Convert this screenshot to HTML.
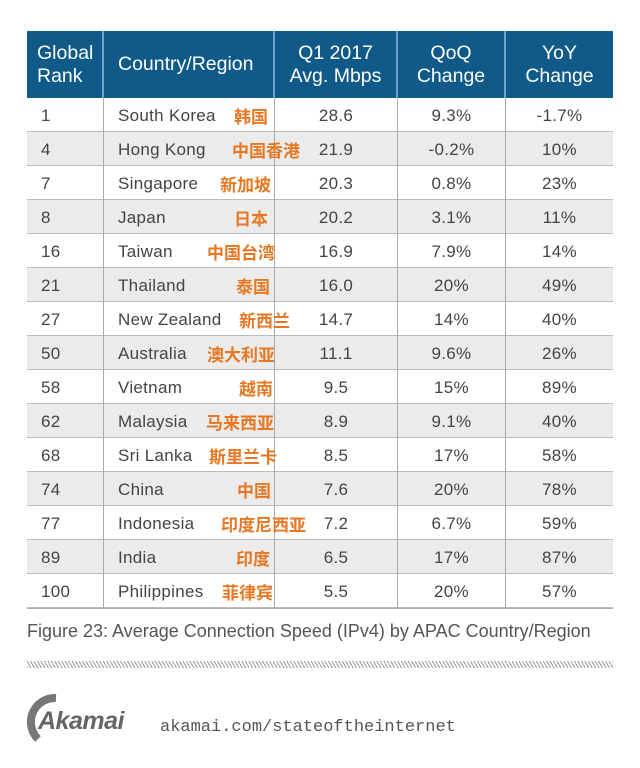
<!DOCTYPE html>
<html><head><meta charset="utf-8"><style>
body{margin:0;width:640px;height:768px;background:#fff;position:relative;overflow:hidden;font-family:"Liberation Sans","Noto Sans CJK SC",sans-serif;}
.hd{position:absolute;top:31px;height:67px;background:#105a8a;color:#fff;font-size:19.5px;line-height:23px;display:flex;align-items:center;box-sizing:border-box;border-right:2px solid #6fa3c8;}
.row{position:absolute;left:27px;width:586px;height:34px;border-bottom:1px solid #bbb;box-sizing:border-box;}
.c{position:absolute;top:0;height:34px;line-height:36px;font-size:17px;letter-spacing:0.3px;color:#444;border-right:1px solid #aaa;box-sizing:border-box;}
.cn{position:absolute;top:0;line-height:36px;font-size:17px;font-weight:bold;color:#e87722;font-family:"Noto Sans CJK SC",sans-serif;white-space:nowrap;}
</style></head><body>
<div class="hd" style="left:27px;width:77px;padding-left:10px;">Global<br>Rank</div>
<div class="hd" style="left:104px;width:171px;padding-left:14px;">Country/Region</div>
<div class="hd" style="left:275px;width:123px;justify-content:center;text-align:center;">Q1 2017<br>Avg. Mbps</div>
<div class="hd" style="left:398px;width:108px;justify-content:center;text-align:center;">QoQ<br>Change</div>
<div class="hd" style="left:506px;width:107px;justify-content:center;text-align:center;border-right:none;">YoY<br>Change</div>
<div id="tbl" style="position:absolute;left:27px;top:98px;width:586px;height:511px;border:1px solid #aaa;border-top:none;box-sizing:border-box;"></div>
<div style="position:absolute;left:27px;top:621px;font-size:18px;color:#555;">Figure 23: Average Connection Speed (IPv4) by APAC Country/Region</div>
<div style="position:absolute;left:27px;top:661px;width:586px;height:7px;background:repeating-linear-gradient(60deg,#999 0 1px,#fff 1px 3px);"></div>
<div style="position:absolute;left:22px;top:693px;width:120px;height:50px;">
<svg width="44" height="50" style="position:absolute;left:0;top:0"><path d="M34 5 A24 24 0 0 0 16 46" stroke="#777" stroke-width="8" fill="none"/></svg>
<span style="position:absolute;left:16px;top:14px;font-size:25px;font-weight:bold;font-style:italic;color:#666;letter-spacing:-0.5px;">Akamai</span></div>
<div style="position:absolute;left:160px;top:718px;font-family:'Liberation Mono',monospace;font-size:17px;color:#555;">akamai.com/stateoftheinternet</div>
<script>
const ranks=[1,4,7,8,16,21,27,50,58,62,68,74,77,89,100];
const countries=["South Korea","Hong Kong","Singapore","Japan","Taiwan","Thailand","New Zealand","Australia","Vietnam","Malaysia","Sri Lanka","China","Indonesia","India","Philippines"];
const chinese=["韩国","中国香港","新加坡","日本","中国台湾","泰国","新西兰","澳大利亚","越南","马来西亚","斯里兰卡","中国","印度尼西亚","印度","菲律宾"];
const speeds=["28.6","21.9","20.3","20.2","16.9","16.0","14.7","11.1","9.5","8.9","8.5","7.6","7.2","6.5","5.5"];
const qoq=["9.3%","-0.2%","0.8%","3.1%","7.9%","20%","14%","9.6%","15%","9.1%","17%","20%","6.7%","17%","20%"];
const yoy=["-1.7%","10%","23%","11%","14%","49%","40%","26%","89%","40%","58%","78%","59%","87%","57%"];
const cnRight=[268,300,271,268,275,270,290,275,273,274,277,271,306,270,273];
const body=document.body;
for(let i=0;i<ranks.length;i++){
 const r=document.createElement('div');
 
 
 r.className='row';r.style.top=(98+i*34)+'px';r.style.background=i%2?'#ebebeb':'#fff';
 const cells=[[0,77,String(ranks[i]),'left',14],[77,171,countries[i],'left',14],[248,123,speeds[i],'center',0],[371,108,qoq[i],'center',0],[479,107,yoy[i],'center',0]];
 cells.forEach((c,j)=>{const d=document.createElement('div');
  
  
  d.className='c';d.style.left=c[0]+'px';d.style.width=c[1]+'px';d.style.textAlign=c[3];d.style.paddingLeft=c[4]+'px';
  if(j==4)d.style.borderRight='none';d.textContent=c[2];r.appendChild(d);});
 const cn=document.createElement('div');
 
 
 cn.className='cn';cn.textContent=chinese[i];cn.style.right=(586-(cnRight[i]-27))+'px';
 r.appendChild(cn);
 body.appendChild(r);
}
</script>
</body></html>
